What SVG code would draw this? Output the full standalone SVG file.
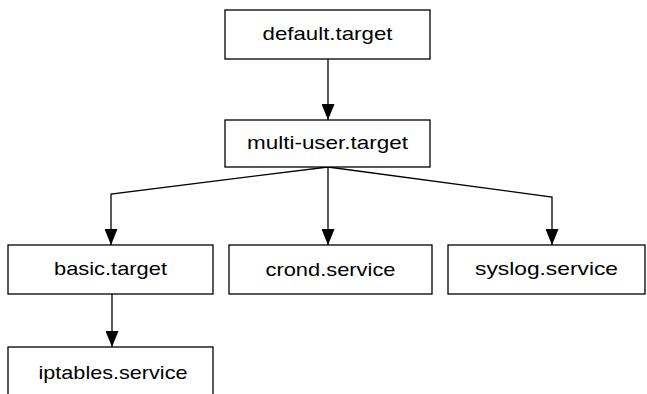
<svg xmlns="http://www.w3.org/2000/svg" width="647" height="394" viewBox="0 0 647 394">
<style>
.box{fill:#fff;stroke:#000;stroke-width:1.3}
.lbl{font-family:"Liberation Sans",Arial,sans-serif;font-size:19px;fill:#000;text-anchor:middle}
.edge{fill:none;stroke:#000;stroke-width:1.3}
</style>
<defs>
<marker id="ah" markerUnits="userSpaceOnUse" markerWidth="16" markerHeight="13" refX="16" refY="6.5" orient="auto">
<path d="M0,0 L16,6.5 L0,13 Z" fill="#000"/>
</marker>
</defs>
<rect width="647" height="394" fill="#fff"/>
<g id="connectors">
<path class="edge" d="M328,59 L328,120" marker-end="url(#ah)"/>
<path class="edge" d="M328,167 L111,194 L111,245" marker-end="url(#ah)"/>
<path class="edge" d="M328,167 L328,245" marker-end="url(#ah)"/>
<path class="edge" d="M328,167 L552,197 L552,245" marker-end="url(#ah)"/>
<path class="edge" d="M112,294 L112,347" marker-end="url(#ah)"/>
</g>
<g id="default-target">
<rect class="box" x="225" y="10" width="205" height="49"/>
<text class="lbl" x="327.5" y="39.5" textLength="130" lengthAdjust="spacingAndGlyphs">default.target</text>
</g>
<g id="multi-user-target">
<rect class="box" x="225" y="120" width="205" height="47"/>
<text class="lbl" x="327.5" y="148.5" textLength="161" lengthAdjust="spacingAndGlyphs">multi-user.target</text>
</g>
<g id="basic-target">
<rect class="box" x="8" y="245" width="205" height="49"/>
<text class="lbl" x="110.5" y="275" textLength="113" lengthAdjust="spacingAndGlyphs">basic.target</text>
</g>
<g id="crond-service">
<rect class="box" x="229" y="245" width="203" height="49"/>
<text class="lbl" x="330.5" y="276" textLength="130" lengthAdjust="spacingAndGlyphs">crond.service</text>
</g>
<g id="syslog-service">
<rect class="box" x="448" y="245" width="197" height="49"/>
<text class="lbl" x="546.5" y="275" textLength="143" lengthAdjust="spacingAndGlyphs">syslog.service</text>
</g>
<g id="iptables-service">
<rect class="box" x="8" y="347" width="205" height="60"/>
<text class="lbl" x="113" y="379" textLength="149" lengthAdjust="spacingAndGlyphs">iptables.service</text>
</g>
</svg>
